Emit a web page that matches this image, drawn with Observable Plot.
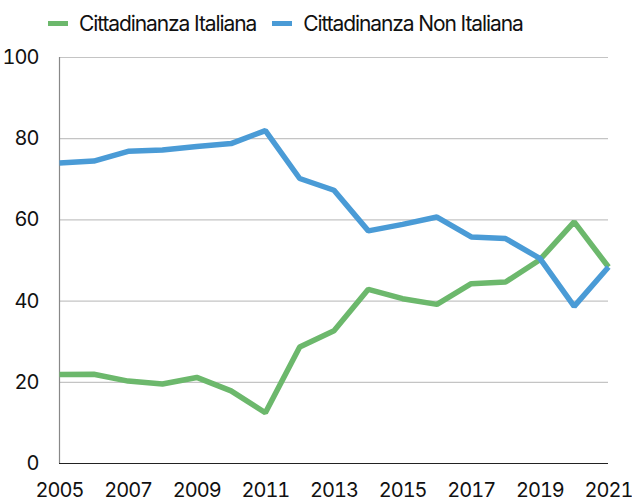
<!DOCTYPE html>
<html><head><meta charset="utf-8">
<script src="https://cdn.jsdelivr.net/npm/d3@7"></script>
<script src="https://cdn.jsdelivr.net/npm/@observablehq/plot@0.6"></script>
<style>
body{margin:0;background:#fff;font-family:Inter,"Open Sans",sans-serif;}
#legend{height:44px;display:flex;align-items:center;padding-left:48px;font-size:21px;letter-spacing:-1.1px;color:#111;box-sizing:border-box;padding-top:3px}
.item{display:flex;align-items:center;margin-right:16px}
.sw{width:20px;height:5px;margin-right:11px}
</style></head><body>
<div id="legend"></div>
<div id="chart"></div>
<script>
const years = [2005,2006,2007,2008,2009,2010,2011,2012,2013,2014,2015,2016,2017,2018,2019,2020,2021];
const italiana = [21.9,22.0,20.3,19.6,21.2,17.9,12.5,28.7,32.7,42.9,40.6,39.2,44.3,44.7,50.2,59.5,48.4];
const nonItaliana = [74.0,74.5,76.9,77.2,78.1,78.8,82.0,70.2,67.3,57.3,58.9,60.7,55.8,55.4,50.5,38.7,48.4];
const seriesNames = ["Cittadinanza Italiana","Cittadinanza Non Italiana"];
const colors = ["#6cb86c","#4a9bd6"];
const xTicks = [2005,2007,2009,2011,2013,2015,2017,2019,2021];
const yTicks = [0,20,40,60,80,100];

const data = [];
years.forEach((y,i)=>{
  data.push({year:y, value:italiana[i], s:seriesNames[0]});
  data.push({year:y, value:nonItaliana[i], s:seriesNames[1]});
});

const leg = document.getElementById("legend");
seriesNames.forEach((n,i)=>{
  const d = document.createElement("div"); d.className="item";
  d.innerHTML = `<span class="sw" style="background:${colors[i]}"></span><span>${n}</span>`;
  leg.appendChild(d);
});

const chart = Plot.plot({
  width:632, height:459,
  marginTop:13, marginBottom:40, marginLeft:59, marginRight:24,
  style:{fontFamily:"Inter, 'Open Sans', sans-serif", fontSize:"20px", color:"#111", letterSpacing:"-1px"},
  x:{domain:[2005,2021], ticks:xTicks, tickFormat:d=>String(d), label:null, tickSize:0, tickPadding:19},
  y:{domain:[0,100], ticks:yTicks, label:null, tickSize:0, tickPadding:21},
  color:{domain:seriesNames, range:colors},
  marks:[
    Plot.gridY(yTicks.filter(t=>t>0), {stroke:"#c4c4c4", strokeOpacity:1, strokeWidth:1.2}),
    Plot.ruleX([2005], {stroke:"#888", strokeWidth:1.2}),
    Plot.ruleY([0], {stroke:"#222", strokeWidth:1.2}),
    Plot.axisX({ticks:xTicks, tickFormat:d=>String(d), tickSize:0, tickPadding:19, label:null, fill:"#111"}),
    Plot.axisY({ticks:yTicks, tickSize:0, tickPadding:21, label:null, fill:"#111"}),
    Plot.line(data, {x:"year", y:"value", stroke:"s", z:"s", strokeWidth:5.5, strokeLinejoin:"miter", strokeLinecap:"butt"})
  ]
});
document.getElementById("chart").appendChild(chart);
</script>
</body></html>
